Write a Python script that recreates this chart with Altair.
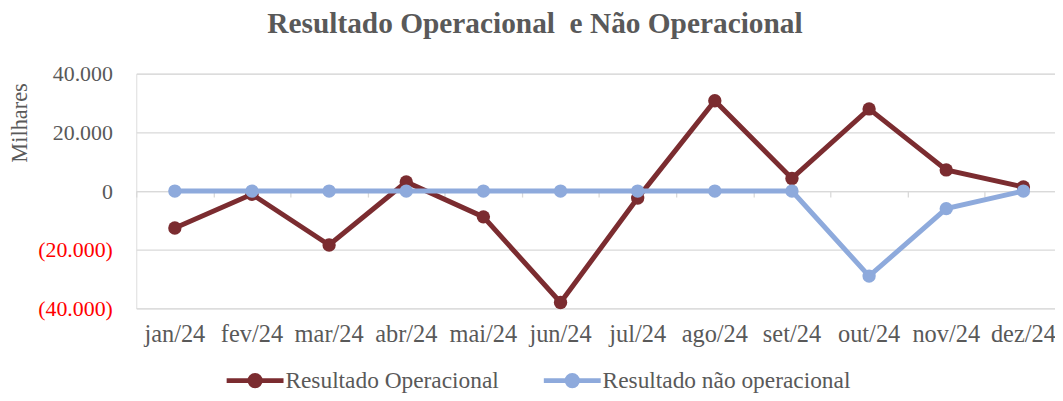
import altair as alt
import pandas as pd

months = ["jan/24", "fev/24", "mar/24", "abr/24", "mai/24", "jun/24",
          "jul/24", "ago/24", "set/24", "out/24", "nov/24", "dez/24"]
operacional = [-12600, -1100, -18400, 3100, -8800, -38000,
               -2400, 30800, 4300, 28000, 7200, 1400]
nao_operacional = [0, 0, 0, 0, 0, 0, 0, 0, 0, -29000, -6000, 0]

s_op = "Resultado Operacional"
s_nop = "Resultado não operacional"

rows = []
for m, v in zip(months, operacional):
    rows.append({"mes": m, "serie": s_op, "valor": v})
for m, v in zip(months, nao_operacional):
    rows.append({"mes": m, "serie": s_nop, "valor": v})
df = pd.DataFrame(rows)

MAROON = "#7B2C30"
BLUE = "#8EAADC"
GRAY = "#595959"
GRID = "#D9D9D9"
FONT = "Liberation Serif"

W, H = 924, 236
xscale = alt.Scale(type="band", paddingInner=0, paddingOuter=0, range=[0, 931])

legend_path = "M-2.2,0L2.2,0M-0.4,0A0.4,0.4,0,1,0,0.4,0A0.4,0.4,0,1,0,-0.4,0Z"
legend = alt.Legend(
    orient="none", legendX=104, legendY=293, direction="horizontal", columns=2,
    title=None, labelFont=FONT, labelFontSize=23.5, labelColor=GRAY, labelLimit=500,
    symbolType=legend_path, symbolSize=676, symbolStrokeWidth=5,
    labelOffset=15, columnPadding=34, symbolOpacity=1,
)
color = alt.Color("serie:N", scale=alt.Scale(domain=[s_op, s_nop], range=[MAROON, BLUE]),
                  legend=legend)

y = alt.Y("valor:Q", scale=alt.Scale(domain=[-40000, 40000], nice=False),
          axis=alt.Axis(values=[-40000, -20000, 0, 20000, 40000],
                        labelExpr="datum.value < 0 ? '(' + replace(format(-datum.value, ','), ',', '.') + ')' : replace(format(datum.value, ','), ',', '.')",
                        labelColor={"condition": {"test": "datum.value < 0", "value": "#FF0000"}, "value": GRAY},
                        labelFont=FONT, labelFontSize=22, labelPadding=24, tickSize=0, ticks=False,
                        domain=False, grid=True, gridColor=GRID, gridWidth=1.3,
                        title="Milhares", titleFont=FONT, titleFontSize=22.5, titleFontWeight="normal",
                        titleColor=GRAY, titleX=-117, titleY=49, titleAngle=270,
                        titleAlign="center", titleBaseline="middle"))

x_labels = alt.X("mes:N", sort=months, scale=xscale, title=None,
                 axis=alt.Axis(orient="bottom", domain=False, ticks=False, tickSize=0,
                               labelPadding=14, labelAngle=0, labelFont=FONT,
                               labelFontSize=24.5, labelColor=GRAY, grid=False))
x_zero = alt.X("mes:N", sort=months, scale=xscale, title=None,
               axis=alt.Axis(orient="bottom", offset=-H / 2, labels=False, domain=True,
                             domainColor=GRID, domainWidth=1.3, ticks=True, tickBand="extent",
                             tickColor=GRID, tickWidth=1.3, tickSize=6, grid=False))
x_none = alt.X("mes:N", sort=months, scale=xscale, title=None, axis=None)

base = alt.Chart(df)
op = base.transform_filter(alt.datum.serie == s_op)
nop = base.transform_filter(alt.datum.serie == s_nop)

l1 = op.mark_line(strokeWidth=5).encode(x=x_labels, y=y, color=color)
p1 = op.mark_circle(size=180, opacity=1).encode(x=x_zero, y=y, color=color)
l2 = nop.mark_line(strokeWidth=5).encode(x=x_none, y=y, color=color)
p2 = nop.mark_circle(size=180, opacity=1).encode(x=x_none, y=y, color=color)

chart = alt.layer(l1, p1, l2, p2).resolve_axis(x="independent").properties(
    width=W, height=H,
    autosize=alt.AutoSizeParams(type="none"),
    padding={"left": 129, "top": 65, "right": 0, "bottom": 84},
    title=alt.TitleParams("Resultado Operacional\u00a0 e Não Operacional",
                          font=FONT, fontSize=29.5, fontWeight="bold", color=GRAY,
                          anchor="middle", dx=-61, offset=0, baseline="alphabetic"),
).configure_view(stroke=None).configure(background="white")

chart.save("out.html", embed_options={"renderer": "svg", "actions": False})
